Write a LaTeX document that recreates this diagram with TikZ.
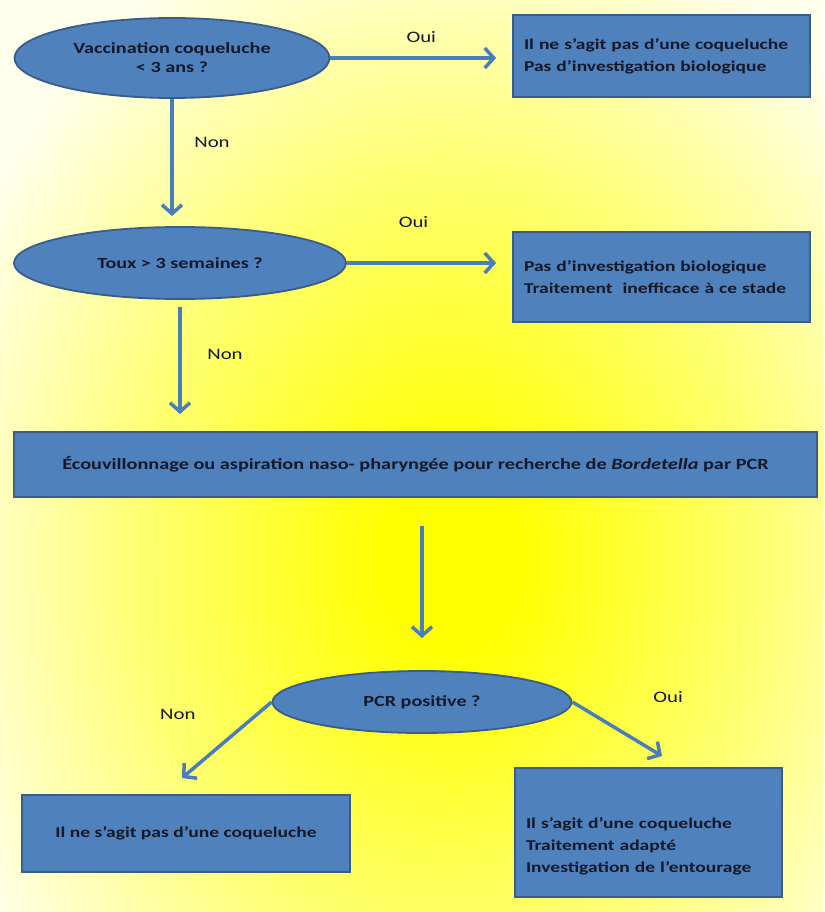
\documentclass[tikz,border=0pt]{standalone}
\usepackage{fontspec}
\setmainfont{Carlito}[FakeStretch=1.3]
\usetikzlibrary{arrows.meta,positioning,shapes.geometric}
\definecolor{boxblue}{RGB}{79,129,189}
\definecolor{boxedge}{RGB}{56,93,138}
\definecolor{flowblue}{RGB}{74,126,187}
\definecolor{ink}{RGB}{20,24,40}
\pgfdeclareradialshading{glow}{\pgfpoint{0bp}{0bp}}{%
  color(0bp)=(yellow); color(3bp)=(yellow); color(14bp)=(yellow!55);
  color(24bp)=(yellow!8); color(50bp)=(yellow!4)}

\tikzset{
  decision/.style={ellipse, draw=boxedge, line width=1.8pt, fill=boxblue, text=ink,
    font=\fontsize{15.5}{19}\selectfont\bfseries, align=center, inner sep=0pt},
  result/.style={rectangle, draw=boxedge, line width=1.8pt, fill=boxblue, text=ink,
    font=\fontsize{15}{22}\selectfont\bfseries, inner xsep=11pt, inner ysep=0pt},
  flow/.style={draw=flowblue, line width=3.5pt,
    -{Straight Barb[length=9pt,width=20pt,line width=3.5pt]}},
  lbl/.style={text=ink, font=\fontsize{16}{19}\selectfont, anchor=center},
}

\begin{document}
\begin{tikzpicture}[x=1pt,y=-1pt]
    % background
    \useasboundingbox (0,0) rectangle (824,912);
    \begin{scope}
      \clip (0,0) rectangle (824,912);
      \shade[shading=glow] (-110,-140) rectangle (1010,1260);
    \end{scope}
    % questions and results
    \node[decision, minimum width=315pt, minimum height=80pt] (vacc) at (172,58)
      {Vaccination coqueluche\\< 3 ans ?};
    \node[result, minimum width=297pt, minimum height=82pt, text width=275pt, align=left] (notpert) at (661.5,56)
      {Il ne s’agit pas d’une coqueluche\\Pas d’investigation biologique};
    \node[decision, minimum width=332pt, minimum height=72pt] (cough) at (180,263)
      {Toux > 3 semaines ?};
    \node[result, minimum width=297pt, minimum height=90pt, text width=275pt, align=left] (noinv) at (661.5,277)
      {Pas d’investigation biologique\\Traitement\ \ inefficace à ce stade};
    \node[result, minimum width=803pt, minimum height=65pt, align=center,
          font=\fontsize{15.6}{22}\selectfont\bfseries] (swab) at (415.5,464.5)
      {Écouvillonnage ou aspiration naso- pharyngée pour recherche de \textit{Bordetella} par PCR};
    \node[decision, minimum width=299pt, minimum height=62pt] (pcr) at (422,702)
      {PCR positive ?};
    \node[result, minimum width=328pt, minimum height=77pt, align=center] (neg) at (186,833.5)
      {Il ne s’agit pas d’une coqueluche};
    \node[result, minimum width=267pt, minimum height=129pt, text width=245pt, align=left] (pos) at (648.5,832.5)
      {\mbox{}\\[16pt]Il s’agit d’une coqueluche\\Traitement adapté\\Investigation de l’entourage};
    % arrow ends below the PCR question
    \coordinate (tipneg) at (182,778);
    \coordinate (tippos) at (662,756);
    % connectors
    \draw[flow, shorten >=16pt] (vacc.east) -- (vacc.east -| notpert.west)
      node[lbl, midway, yshift=21pt] {Oui};
    \draw[flow, shorten >=10pt] (vacc.south) -- (vacc.south |- cough.north)
      node[lbl, midway, xshift=40pt, yshift=20pt] {Non};
    \draw[flow, shorten >=16pt] (cough.east) -- (cough.east -| noinv.west)
      node[lbl, midway, xshift=-16pt, yshift=41pt] {Oui};
    \draw[flow, shorten <=7pt, shorten >=17pt] (cough.south) -- (cough.south |- swab.north)
      node[lbl, midway, xshift=45pt, yshift=11pt] {Non};
    \draw[flow, shorten <=28pt, shorten >=32pt] (swab.south -| pcr.north) -- (pcr.north);
    \draw[flow] (pcr.west) -- (tipneg)
      node[lbl, midway, xshift=-49pt, yshift=26pt] {Non};
    \draw[flow] (pcr.east) -- (tippos)
      node[lbl, midway, xshift=51pt, yshift=32pt] {Oui};
\end{tikzpicture}
\end{document}
